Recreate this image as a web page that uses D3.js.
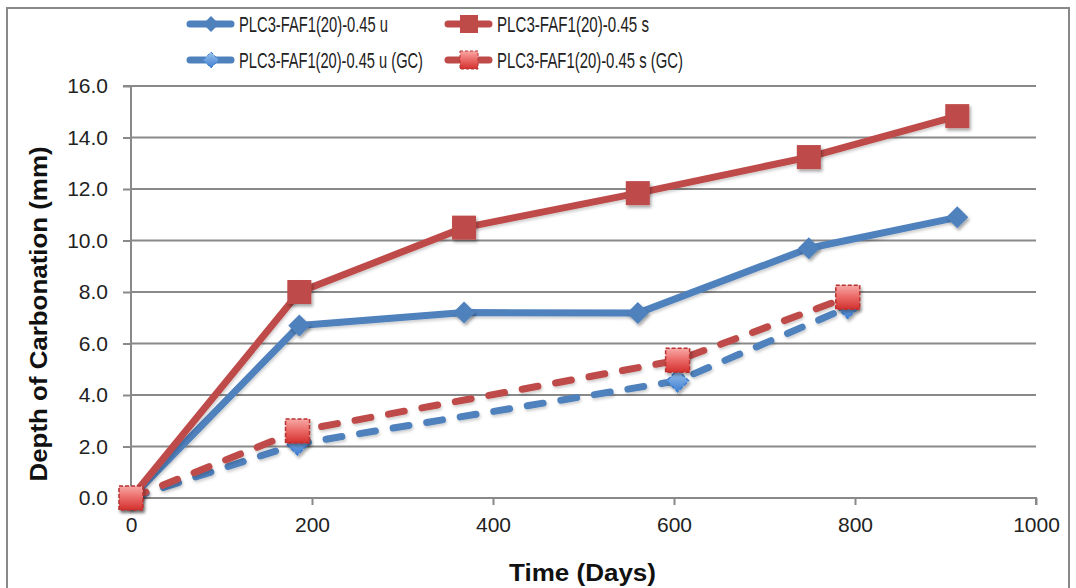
<!DOCTYPE html>
<html><head><meta charset="utf-8">
<script src="https://cdn.jsdelivr.net/npm/d3@7"></script>
<style>body{margin:0;background:#fff}svg{display:block}</style>
</head><body>
<svg id="c" width="1076" height="588"></svg>
<script>
// ---- data ----
const seriesNames = ["PLC3-FAF1(20)-0.45 u","PLC3-FAF1(20)-0.45 s","PLC3-FAF1(20)-0.45 u (GC)","PLC3-FAF1(20)-0.45 s (GC)"];
const uDays = [0,186,368,560,749,913];
const uDepth = [0,6.7,7.2,7.18,9.7,10.9];
const sDays = [0,186,368,560,749,913];
const sDepth = [0,8.0,10.5,11.84,13.24,14.83];
const uGCDays = [0,184,604,792];
const uGCDepth = [0,2.1,4.55,7.4];
const sGCDays = [0,184,604,792];
const sGCDepth = [0,2.6,5.35,7.8];
const xTicks = [0,200,400,600,800,1000];
const yTicks = [0,2,4,6,8,10,12,14,16];
const xTitle = "Time (Days)";
const yTitle = "Depth of Carbonation (mm)";

const svg = d3.select("#c");
const L=131,R=1036,T=86,B=498;
const x = d3.scaleLinear().domain([0,1000]).range([L,R]);
const y = d3.scaleLinear().domain([0,16]).range([B,T]);
const FONT = "'Liberation Sans', Arial, sans-serif";
const BLUE="#4F81BD", RED="#BE4B48";

const defs = svg.append("defs");
const f = defs.append("filter").attr("id","sh").attr("x","-50%").attr("y","-50%").attr("width","200%").attr("height","200%");
f.append("feDropShadow").attr("dx",1.5).attr("dy",2.5).attr("stdDeviation",1.8).attr("flood-color","#000").attr("flood-opacity",0.35);
const fl = defs.append("filter").attr("id","lsh").attr("x","-10%").attr("y","-10%").attr("width","120%").attr("height","120%");
fl.append("feDropShadow").attr("dx",1).attr("dy",2).attr("stdDeviation",1.5).attr("flood-color","#000").attr("flood-opacity",0.2);
const gr = defs.append("linearGradient").attr("id","gRed").attr("x1",0).attr("y1",0).attr("x2",0).attr("y2",1);
gr.append("stop").attr("offset","0%").attr("stop-color","#F7A9A7");
gr.append("stop").attr("offset","45%").attr("stop-color","#EC6E6B");
gr.append("stop").attr("offset","100%").attr("stop-color","#D2302E");
const gb = defs.append("linearGradient").attr("id","gBlue").attr("x1",0).attr("y1",0).attr("x2",0).attr("y2",1);
gb.append("stop").attr("offset","0%").attr("stop-color","#9CC3EE");
gb.append("stop").attr("offset","100%").attr("stop-color","#3F7FD0");

// frame
svg.append("rect").attr("x",7).attr("y",8).attr("width",1062).attr("height",600)
  .attr("fill","#fff").attr("stroke","#898989").attr("stroke-width",2);

// gridlines
svg.append("g").selectAll("line").data(yTicks.filter(d=>d>0)).join("line")
  .attr("x1",L).attr("x2",R).attr("y1",d=>y(d)).attr("y2",d=>y(d))
  .attr("stroke","#898989").attr("stroke-width",2);

// axes
const yAxis = svg.append("g").attr("transform",`translate(${L},0)`)
  .call(d3.axisLeft(y).tickValues(yTicks).tickFormat(d3.format(".1f")).tickSize(8).tickPadding(15));
const xAxis = svg.append("g").attr("transform",`translate(0,${B})`)
  .call(d3.axisBottom(x).tickValues(xTicks).tickFormat(d3.format("d")).tickSize(7).tickPadding(12));
[yAxis,xAxis].forEach(g=>{
  g.select(".domain").attr("stroke","#898989").attr("stroke-width",2);
  g.selectAll(".tick line").attr("stroke","#898989").attr("stroke-width",2);
  g.selectAll("text").attr("font-family",FONT).attr("font-size",21).attr("fill","#222");
});
xAxis.select(".domain").attr("d",`M${L},0H${R}V7`);
yAxis.select(".domain").attr("d",`M-8,${T}H0V${B}`);

// titles
svg.append("text").attr("x",(L+R)/2-1).attr("y",581).attr("text-anchor","middle")
  .attr("font-family",FONT).attr("font-weight","bold").attr("font-size",23).attr("fill","#111")
  .attr("textLength",147).attr("lengthAdjust","spacingAndGlyphs").text(xTitle);
svg.append("text").attr("transform","translate(47,314) rotate(-90)").attr("text-anchor","middle")
  .attr("font-family",FONT).attr("font-weight","bold").attr("font-size",23).attr("fill","#111")
  .attr("textLength",335).attr("lengthAdjust","spacingAndGlyphs").text(yTitle);

// series
const series = [
  {name:seriesNames[0], xs:uDays, ys:uDepth, color:BLUE, dash:null, marker:"diamond", fill:BLUE, mstroke:"none"},
  {name:seriesNames[1], xs:sDays, ys:sDepth, color:RED, dash:null, marker:"square", fill:RED, mstroke:"none"},
  {name:seriesNames[2], xs:uGCDays, ys:uGCDepth, color:BLUE, dash:"16,18", marker:"diamond", fill:"url(#gBlue)", mstroke:"#3F7FD0"},
  {name:seriesNames[3], xs:sGCDays, ys:sGCDepth, color:RED, dash:"16,18", marker:"square", fill:"url(#gRed)", mstroke:"#B83230"},
];
const line = d3.line().x(d=>x(d[0])).y(d=>y(d[1]));
function markerPath(type, s){
  if(type==="square") return `M${-s},${-s}H${s}V${s}H${-s}Z`;
  return `M0,${-s}L${s},0L0,${s}L${-s},0Z`;
}
series.forEach(s=>{
  const pts = s.xs.map((v,i)=>[v,s.ys[i]]);
  const g = svg.append("g");
  g.append("path").attr("d",line(pts)).attr("fill","none").attr("stroke",s.color)
    .attr("stroke-width",7).attr("stroke-linejoin","round").attr("stroke-linecap","round")
    .attr("stroke-dasharray",s.dash).attr("filter","url(#lsh)");
  g.selectAll("path.m").data(pts).join("path").attr("class","m")
    .attr("transform",d=>`translate(${x(d[0])},${y(d[1])})`)
    .attr("d",markerPath(s.marker, s.marker==="square"?12:11))
    .attr("fill",s.fill).attr("stroke",s.mstroke).attr("stroke-width",1.5)
    .attr("stroke-dasharray",s.dash?"4,2":null).attr("filter","url(#sh)");
});

// legend
const legPos = [[187,24],[445,24],[187,60],[445,60]];
const legLen = [149,152,184,186];
series.forEach((s,i)=>{
  const [lx,ly]=legPos[i];
  const g = svg.append("g");
  g.append("line").attr("x1",lx+3).attr("x2",lx+44).attr("y1",ly).attr("y2",ly)
    .attr("stroke",s.color).attr("stroke-width",7).attr("stroke-linecap","round");
  g.append("path").attr("transform",`translate(${lx+24},${ly})`)
    .attr("d",markerPath(s.marker, s.marker==="square"?9:8))
    .attr("fill",s.fill).attr("stroke",s.mstroke).attr("stroke-width",1)
    .attr("stroke-dasharray",s.dash?"3,2":null);
  g.append("text").attr("x",lx+52).attr("y",ly+8).attr("font-family",FONT).attr("font-size",22)
    .attr("fill","#222").attr("textLength",legLen[i])
    .attr("lengthAdjust","spacingAndGlyphs").text(s.name);
});
</script>
</body></html>
